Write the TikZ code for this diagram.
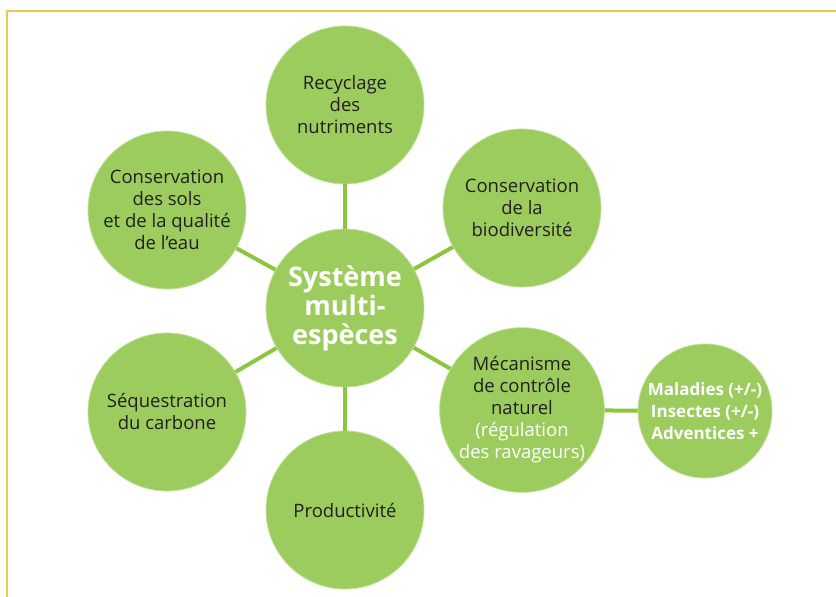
\documentclass[tikz,border=0pt]{standalone}
\usepackage{fontspec}
\setmainfont{Open Sans}
\definecolor{bubble}{RGB}{155,204,93}
\definecolor{link}{RGB}{140,198,63}
\definecolor{frame}{RGB}{240,197,85}
\definecolor{ink}{RGB}{35,31,32}
\begin{document}
\begin{tikzpicture}[x=1pt,y=-1pt,
    bubble/.style={circle,fill=bubble,draw=bubble!60!white,line width=0.8pt,
      minimum size=158pt,inner sep=0pt,align=center,text=ink,
      font=\fontsize{18.5}{22}\selectfont},
    link/.style={draw=link,line width=4pt}]
    \useasboundingbox (0,0) rectangle (836,597);
    \draw[frame,line width=2pt] (7,597) -- (7,11) -- (836,11);
    %
    \node[bubble,text=white,font=\bfseries\fontsize{27}{29}\selectfont] (sys) at (345,308) {Système\\multi-\\espèces};
    \node[bubble] (recy) at (345,105) {Recyclage\\des\\nutriments};
    \node[bubble] (bio) at (522,208) {Conservation\\de la\\biodiversité};
    \node[bubble] (ctrl) at (522,410) {Mécanisme\\de contrôle\\naturel\\\textcolor{white}{(régulation}\\\textcolor{white}{des ravageurs)}};
    \node[bubble] (prod) at (345,510) {Productivité};
    \node[bubble] (seq) at (167,412) {Séquestration\\du carbone};
    \node[bubble] (sols) at (167,210) {Conservation\\des sols\\et de la qualité\\de l’eau};
    %
    \node[bubble,minimum size=134pt,text=white,font=\bfseries\fontsize{17}{22}\selectfont] (pest) at (705,411) {Maladies (+/-)\\Insectes (+/-)\\Adventices +};
    %
    \foreach \n in {recy,bio,ctrl,prod,seq,sols}
      \draw[link] (sys) -- (\n);
    \draw[link] (ctrl) -- (pest);
\end{tikzpicture}
\end{document}
